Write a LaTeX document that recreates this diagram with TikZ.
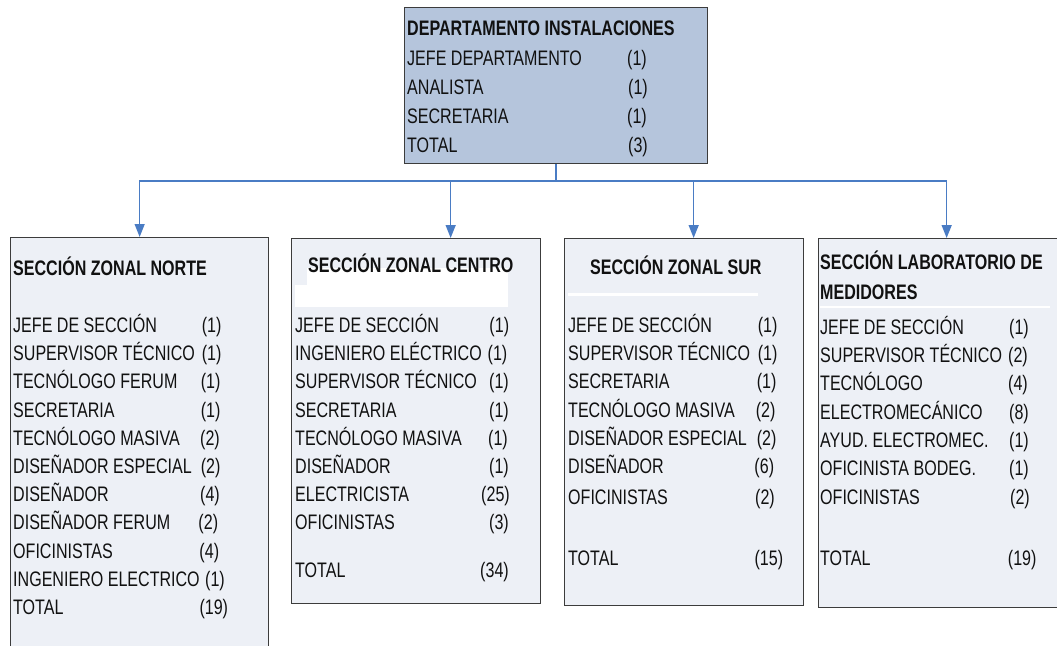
\documentclass[tikz,border=0pt]{standalone}
\usepackage{fontspec}
\setmainfont{Liberation Sans}[FakeStretch=0.765]
\usetikzlibrary{arrows.meta}
\definecolor{boxfill}{HTML}{EDF0F6}
\definecolor{topfill}{HTML}{B5C5DC}
\definecolor{boxline}{HTML}{3C3C3C}
\definecolor{arrowblue}{HTML}{4A7CC4}
\definecolor{txtcol}{HTML}{111111}
\newcommand\orgfont{\fontsize{21pt}{24pt}\selectfont}
\tikzset{
  orgbox/.style={draw=boxline, line width=1.3pt, fill=boxfill, anchor=north west, inner sep=0pt},
  topbox/.style={orgbox, fill=topfill},
  txt/.style={inner sep=0pt, text height=15pt, text depth=0pt, anchor=west, font=\orgfont, text=txtcol},
  ttl/.style={txt, font=\orgfont\bfseries},
  cnt/.style={txt, anchor=east},
  conn/.style={draw=arrowblue, line width=1.4pt},
  arr/.style={conn, -{Triangle[length=13pt,width=10pt]}},
  band/.style={fill=white, draw=none}
}
\begin{document}
\begin{tikzpicture}[x=1pt,y=-1pt]
\useasboundingbox (0,0) rectangle (1057,645);
\clip (0,0) rectangle (1057,645);
\fill[white] (0,0) rectangle (1057,645);

% boxes
\node[topbox, minimum width=303pt, minimum height=156pt] (top) at (404,7) {};
\node[orgbox, minimum width=258pt, minimum height=430pt] (norte) at (10,237) {};
\node[orgbox, minimum width=249pt, minimum height=365pt] (centro) at (291,238) {};
\node[orgbox, minimum width=239pt, minimum height=367pt] (sur) at (564,238) {};
\node[orgbox, minimum width=260pt, minimum height=369pt] (lab) at (818,238) {};

% connectors
\coordinate (hub) at (top.south |- 0,181);
\draw[conn] (top.south) -- (hub);
\draw[arr] (hub) -| (norte.north);
\draw[arr] (hub) -| ([xshift=34.5pt]centro.north);
\draw[arr] (hub) -| ([xshift=9.5pt]sur.north);
\draw[arr] (hub) -| ([xshift=-2pt]lab.north);

% white bands
\path[band] (307,268) rectangle (508,288);
\path[band] (295,285) rectangle (508,307);
\path[band] (568,293) rectangle (758,296);
\path[band] (820,306) rectangle (1050,308);

% top box text
\node[ttl] (t-title) at (407,28.3) {DEPARTAMENTO INSTALACIONES};
\foreach \t/\c/\y/\r [count=\i] in {JEFE DEPARTAMENTO/1/58.3/647,ANALISTA/1/87.3/648,SECRETARIA/1/116/647,TOTAL/3/145/648}{
  \node[txt] (t-t\i) at (407,\y) {\t};
  \node[cnt] (t-c\i) at (\r,\y) {(\c)};
}

% Norte
\node[ttl] (n-title) at (13,268.3) {SECCIÓN ZONAL NORTE};
\foreach \t/\c/\y/\r [count=\i] in {JEFE DE SECCIÓN/1/325/221.7,SUPERVISOR TÉCNICO/1/353.2/221.7,TECNÓLOGO FERUM/1/381.4/220.7,SECRETARIA/1/409.6/220.7,TECNÓLOGO MASIVA/2/437.8/220,DISEÑADOR ESPECIAL/2/466/220.7,DISEÑADOR/4/494.2/220,DISEÑADOR FERUM/2/522.4/218.3,OFICINISTAS/4/550.6/219.3,INGENIERO ELECTRICO/1/578.8/225,TOTAL/19/607/228.3}{
  \node[txt] (n-t\i) at (13,\y) {\t};
  \node[cnt] (n-c\i) at (\r,\y) {(\c)};
}

% Centro
\node[ttl] (c-title) at (308,265) {SECCIÓN ZONAL CENTRO};
\foreach \t/\c/\y/\r [count=\i] in {JEFE DE SECCIÓN/1/325/509.3,INGENIERO ELÉCTRICO/1/353.2/507.5,SUPERVISOR TÉCNICO/1/381.4/509,SECRETARIA/1/409.6/509,TECNÓLOGO MASIVA/1/437.8/508,DISEÑADOR/1/466/509,ELECTRICISTA/25/494.2/510,OFICINISTAS/3/522.4/509,TOTAL/34/570/509}{
  \node[txt] (c-t\i) at (295,\y) {\t};
  \node[cnt] (c-c\i) at (\r,\y) {(\c)};
}

% Sur
\node[ttl] (s-title) at (590,266.7) {SECCIÓN ZONAL SUR};
\foreach \t/\c/\y/\r [count=\i] in {JEFE DE SECCIÓN/1/325/777.7,SUPERVISOR TÉCNICO/1/353.2/777.7,SECRETARIA/1/381.4/776.7,TECNÓLOGO MASIVA/2/409.6/775.7,DISEÑADOR ESPECIAL/2/437.8/776.7,DISEÑADOR/6/466/774.3,OFICINISTAS/2/497/775,TOTAL/15/558/783.3}{
  \node[txt] (s-t\i) at (568,\y) {\t};
  \node[cnt] (s-c\i) at (\r,\y) {(\c)};
}

% Laboratorio
\node[ttl] (l-title1) at (820,262) {SECCIÓN LABORATORIO DE};
\node[ttl] (l-title2) at (820,292) {MEDIDORES};
\foreach \t/\c/\y/\r [count=\i] in {JEFE DE SECCIÓN/1/326.7/1029,SUPERVISOR TÉCNICO/2/355/1028,TECNÓLOGO/4/383.3/1028,ELECTROMECÁNICO/8/411.7/1029,AYUD. ELECTROMEC./1/440/1029,OFICINISTA BODEG./1/468.3/1029,OFICINISTAS/2/496.7/1030,TOTAL/19/558/1036.7}{
  \node[txt] (l-t\i) at (820,\y) {\t};
  \node[cnt] (l-c\i) at (\r,\y) {(\c)};
}
\end{tikzpicture}
\end{document}
